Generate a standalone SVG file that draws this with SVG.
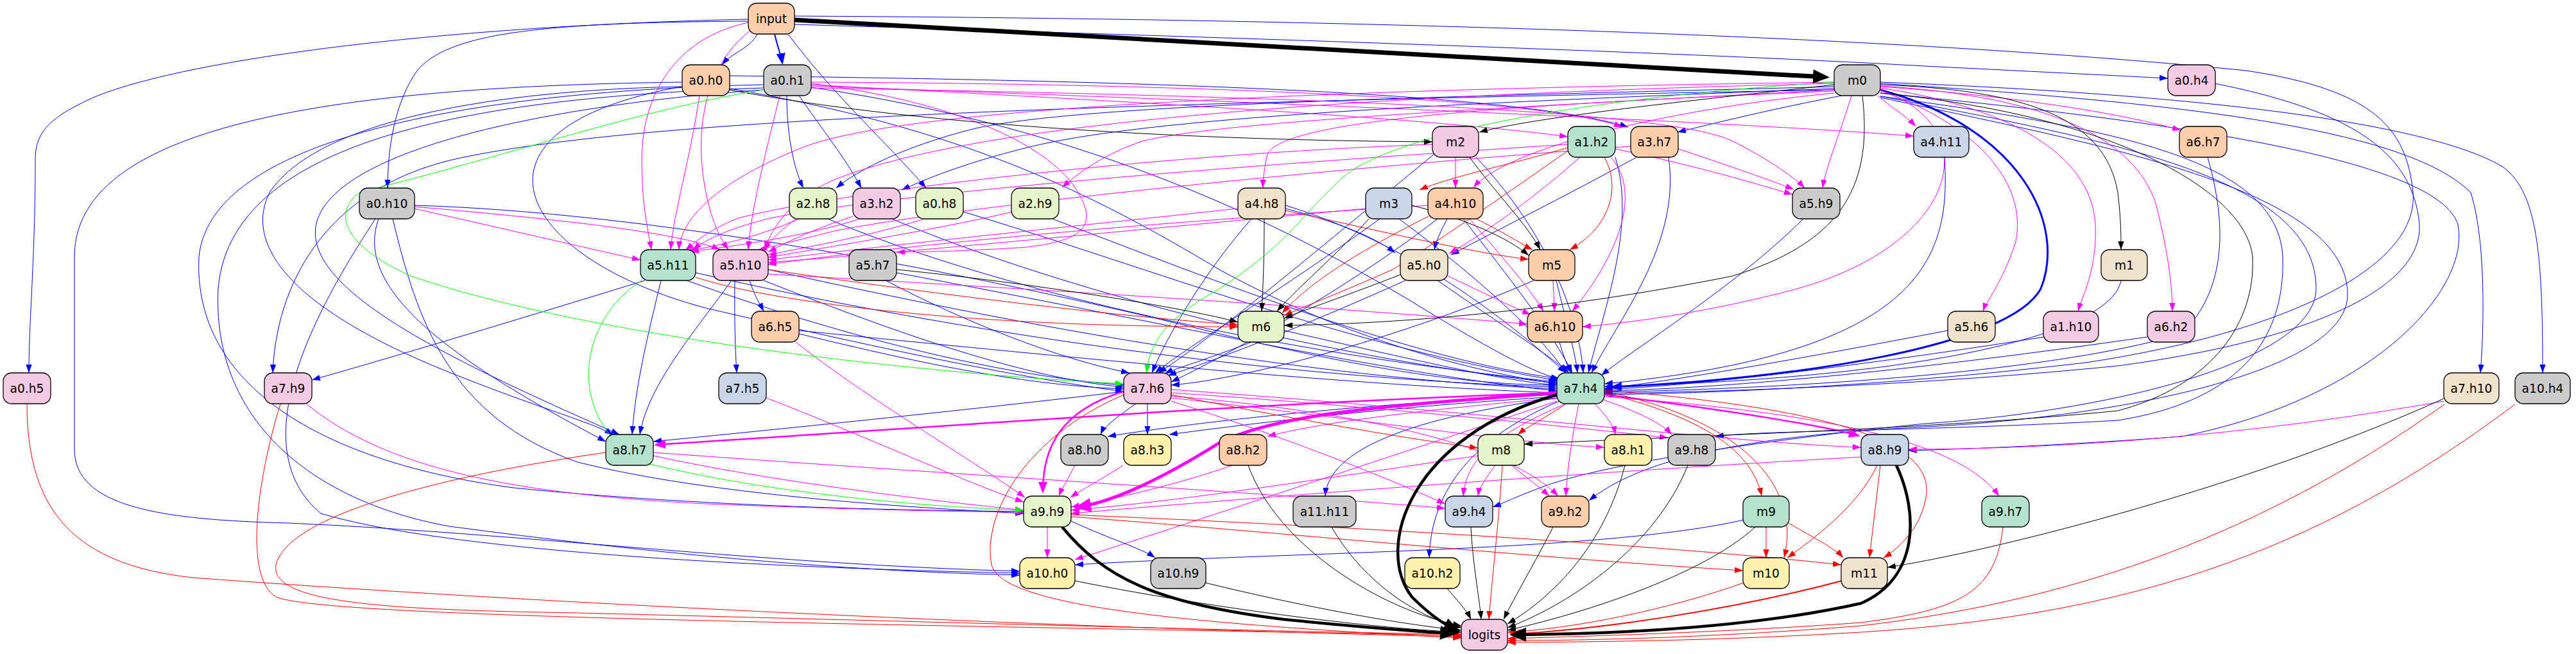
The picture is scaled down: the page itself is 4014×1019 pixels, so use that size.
<svg xmlns="http://www.w3.org/2000/svg" width="4014" height="1019" viewBox="0 0 4014 1019">
<defs>
<style>
.node rect{stroke:#000;stroke-width:1.3}
.node text{font-family:"DejaVu Sans",sans-serif;font-size:18.67px;text-anchor:middle;fill:#000}
#edges path{fill:none;stroke-width:1}
.b{stroke:#0000ff;marker-end:url(#ab)}
.m{stroke:#ff00ff;marker-end:url(#am)}
.r{stroke:#ff0000;marker-end:url(#ar)}
.k{stroke:#000;marker-end:url(#ak)}
.g{stroke:#00ff00;marker-end:url(#ag)}
#edges .bM{stroke:#0000ff;stroke-width:3;marker-end:url(#abM)}
#edges .b2{stroke:#0000ff;stroke-width:2;marker-end:url(#abM)}
#edges .mM{stroke:#ff00ff;stroke-width:2.5;marker-end:url(#amM)}
#edges .mL{stroke:#ff00ff;stroke-width:5;marker-end:url(#amL)}
#edges .rM{stroke:#ff0000;stroke-width:2;marker-end:url(#arM)}
#edges .kL{stroke:#000;stroke-width:4.5;marker-end:url(#akL)}
#edges .kX{stroke:#000;stroke-width:7;marker-end:url(#akL)}
</style>
<marker id="ab" markerUnits="userSpaceOnUse" markerWidth="14" markerHeight="10" refX="13" refY="4.7" orient="auto"><path d="M0,0L13,4.7L0,9.4z" fill="#0000ff"/></marker>
<marker id="am" markerUnits="userSpaceOnUse" markerWidth="14" markerHeight="10" refX="13" refY="4.7" orient="auto"><path d="M0,0L13,4.7L0,9.4z" fill="#ff00ff"/></marker>
<marker id="ar" markerUnits="userSpaceOnUse" markerWidth="14" markerHeight="10" refX="13" refY="4.7" orient="auto"><path d="M0,0L13,4.7L0,9.4z" fill="#ff0000"/></marker>
<marker id="ak" markerUnits="userSpaceOnUse" markerWidth="14" markerHeight="10" refX="13" refY="4.7" orient="auto"><path d="M0,0L13,4.7L0,9.4z" fill="#000"/></marker>
<marker id="ag" markerUnits="userSpaceOnUse" markerWidth="14" markerHeight="10" refX="13" refY="4.7" orient="auto"><path d="M0,0L13,4.7L0,9.4z" fill="#00ff00"/></marker>
<marker id="abM" markerUnits="userSpaceOnUse" markerWidth="19" markerHeight="15" refX="15" refY="7" orient="auto"><path d="M0,0L18,7L0,14z" fill="#0000ff"/></marker>
<marker id="amM" markerUnits="userSpaceOnUse" markerWidth="19" markerHeight="15" refX="15" refY="7" orient="auto"><path d="M0,0L18,7L0,14z" fill="#ff00ff"/></marker>
<marker id="arM" markerUnits="userSpaceOnUse" markerWidth="19" markerHeight="15" refX="15" refY="7" orient="auto"><path d="M0,0L18,7L0,14z" fill="#ff0000"/></marker>
<marker id="amL" markerUnits="userSpaceOnUse" markerWidth="27" markerHeight="23" refX="18" refY="11" orient="auto"><path d="M0,0L26,11L0,22z" fill="#ff00ff"/></marker>
<marker id="akL" markerUnits="userSpaceOnUse" markerWidth="27" markerHeight="23" refX="18" refY="11" orient="auto"><path d="M0,0L26,11L0,22z" fill="#000"/></marker>
</defs>
<rect width="4014" height="1019" fill="#fff"/>
<g id="edges">
<path class="b" d="M1180,53 C1170,75 1140,82 1125,101"/>
<path class="b" d="M1238,38 C1800,55 2600,80 3000,103 C3200,113 3300,118 3378,122"/>
<path class="b" d="M1166,33 C850,35 700,50 650,110 C615,160 604,230 604,293"/>
<path class="b" d="M1166,30 C700,40 300,90 150,150 C70,185 55,210 55,250 C55,400 45,500 45,581"/>
<path class="b" d="M1228,53 C1300,150 1380,220 1443,293"/>
<path class="b" d="M2870,149 C2760,170 2680,190 2614,206"/>
<path class="b" d="M1137,118 C1700,125 2350,140 2537,198"/>
<path class="b" d="M1226,149 C1226,220 1240,270 1252,293"/>
<path class="b" d="M2858,135 C2300,150 1700,160 1520,200 C1400,230 1330,270 1303,293"/>
<path class="b" d="M1245,149 C1280,200 1320,250 1342,293"/>
<path class="b" d="M2858,138 C2300,160 1800,180 1600,230 C1500,255 1440,280 1405,296"/>
<path class="b" d="M2003,325 C2100,350 2150,375 2174,394"/>
<path class="b" d="M2255,341 C2245,360 2238,375 2235,389"/>
<path class="b" d="M2550,245 C2450,300 2330,360 2261,397"/>
<path class="b" d="M1168,437 C1175,460 1185,475 1190,485"/>
<path class="b" d="M2858,140 C1800,160 1000,180 700,250 C500,300 430,450 425,581"/>
<path class="b" d="M1005,437 C800,500 600,560 486,592"/>
<path class="b" d="M1145,437 C1144,500 1146,550 1148,581"/>
<path class="b" d="M1070,437 C1300,520 1550,585 1751,600"/>
<path class="b" d="M1190,437 C1400,520 1600,590 1751,603"/>
<path class="b" d="M1245,520 C1450,570 1600,600 1751,606"/>
<path class="b" d="M1380,437 C1500,500 1650,560 1760,581"/>
<path class="b" d="M1950,533 C1880,560 1830,575 1815,582"/>
<path class="b" d="M2190,437 C2050,500 1900,560 1820,585"/>
<path class="b" d="M2150,341 C2000,450 1850,540 1800,581"/>
<path class="b" d="M1950,341 C1880,420 1820,520 1795,581"/>
<path class="b" d="M2390,437 C2200,520 1950,590 1825,600"/>
<path class="b" d="M2240,341 C2100,450 1900,560 1825,595"/>
<path class="b" d="M2235,240 C2100,350 1900,520 1805,581"/>
<path class="b" d="M1062,135 C700,200 800,400 1100,480 C1400,550 1600,590 1751,610"/>
<path class="b" d="M646,320 C1000,330 1500,420 1900,520 C2150,580 2300,600 2426,600"/>
<path class="b" d="M1290,341 C1500,430 1900,540 2426,595"/>
<path class="b" d="M1390,341 C1600,430 2000,550 2426,597"/>
<path class="b" d="M1501,330 C1800,420 2100,540 2428,593"/>
<path class="b" d="M1640,341 C1900,440 2200,560 2430,590"/>
<path class="b" d="M2003,320 C2200,380 2350,500 2440,581"/>
<path class="b" d="M1084,425 C1500,520 2000,590 2426,603"/>
<path class="b" d="M1197,420 C1600,510 2050,590 2426,606"/>
<path class="b" d="M1397,425 C1800,500 2150,580 2426,609"/>
<path class="b" d="M1245,515 C1700,560 2100,600 2426,612"/>
<path class="b" d="M2001,515 C2200,560 2350,595 2426,600"/>
<path class="b" d="M1137,138 C1500,200 1700,300 1900,420 C2100,530 2300,580 2426,598"/>
<path class="b" d="M1264,136 C1700,200 2000,350 2200,470 C2330,550 2400,585 2430,590"/>
<path class="b" d="M2180,341 C2300,430 2400,520 2440,581"/>
<path class="b" d="M2280,341 C2350,430 2420,520 2450,581"/>
<path class="b" d="M2240,437 C2330,500 2410,550 2445,581"/>
<path class="b" d="M2425,437 C2440,500 2455,550 2458,581"/>
<path class="b" d="M2430,533 C2435,550 2440,565 2448,581"/>
<path class="b" d="M2300,245 C2400,350 2460,480 2467,581"/>
<path class="b" d="M2517,245 C2550,350 2500,480 2475,581"/>
<path class="b" d="M2600,245 C2620,380 2520,500 2480,581"/>
<path class="b" d="M2810,341 C2700,450 2550,540 2495,585"/>
<path class="b" d="M3030,245 C3040,400 3000,550 2500,598"/>
<path class="b" d="M3305,437 C3290,520 3000,590 2500,602"/>
<path class="b" d="M3035,515 C2800,560 2600,595 2500,605"/>
<path class="b" d="M3185,525 C2900,570 2650,600 2500,607"/>
<path class="b" d="M3346,525 C3000,575 2700,605 2500,609"/>
<path class="b" d="M3440,245 C3470,350 3470,450 3400,520 C3200,580 2800,605 2500,611"/>
<path class="b" d="M3451,130 C3650,170 3760,230 3770,350 C3775,450 3600,530 3300,570 C3000,600 2700,610 2500,613"/>
<path class="b" d="M1238,25 C2200,30 3000,60 3500,110 C3700,140 3750,200 3760,300 C3770,420 3550,520 3250,565 C2950,600 2700,612 2500,615"/>
<path class="b" d="M2930,130 C3400,160 3750,200 3850,300 C3875,380 3870,520 3865,581"/>
<path class="b" d="M2930,128 C3500,150 3800,200 3900,260 C3955,300 3962,400 3962,581"/>
<path class="b" d="M1030,437 C1010,520 990,600 985,677"/>
<path class="b" d="M590,341 C550,450 700,560 944,688"/>
<path class="b" d="M1062,135 C800,140 500,180 420,300 C380,380 450,480 700,580 C850,640 930,660 955,678"/>
<path class="b" d="M1189,140 C900,160 560,220 500,330 C440,440 700,560 965,677"/>
<path class="b" d="M1140,437 C1080,520 1010,600 997,677"/>
<path class="b" d="M1751,610 C1500,640 1200,670 1018,688"/>
<path class="b" d="M1770,629 C1740,650 1720,665 1715,677"/>
<path class="b" d="M2426,615 C2100,630 1850,660 1726,680"/>
<path class="b" d="M1788,629 L1788,677"/>
<path class="b" d="M2426,618 C2150,635 1950,660 1822,677"/>
<path class="b" d="M2930,150 C3300,200 3550,250 3557,400 C3560,500 3520,620 3300,655 C3000,672 2750,670 2673,680"/>
<path class="b" d="M2930,145 C3400,190 3800,250 3830,350 C3850,450 3700,620 3400,680 C3200,695 3050,700 2974,702"/>
<path class="b" d="M1189,132 C800,140 330,200 310,400 C300,600 500,720 800,760 C1100,790 1400,795 1595,797"/>
<path class="b" d="M612,341 C650,500 700,650 900,720 C1100,770 1400,790 1595,800"/>
<path class="b" d="M2430,620 C2200,650 2070,700 2065,773"/>
<path class="b" d="M2930,150 C3300,220 3610,280 3609,450 C3608,560 3300,640 3000,660 C2800,680 2500,720 2400,760 C2360,775 2340,785 2326,790"/>
<path class="b" d="M2930,152 C3300,230 3660,300 3658,460 C3656,580 3300,650 3000,665 C2700,680 2550,720 2476,780"/>
<path class="b" d="M2717,810 C2500,860 2000,860 1675,880"/>
<path class="b" d="M1062,128 C500,135 116,200 116,400 L116,700 C116,790 250,810 450,815 C800,830 1200,880 1589,890"/>
<path class="b" d="M585,341 C480,500 380,700 500,800 C700,860 1200,885 1589,893"/>
<path class="b" d="M1189,137 C800,150 360,200 340,450 C330,650 480,780 700,820 C1000,860 1300,890 1589,896"/>
<path class="b" d="M1669,812 C1730,840 1780,855 1800,869"/>
<path class="b" d="M2430,625 C2300,680 2230,760 2227,869"/>
<path class="b2" d="M1207,53 C1212,75 1217,85 1219,98"/>
<path class="bM" d="M2930,140 C3150,200 3220,350 3180,450 C3130,540 2800,590 2512,603"/>
<path class="m" d="M1264,132 C1600,150 2200,180 2443,213"/>
<path class="m" d="M1264,128 C1800,130 2400,150 2528,198"/>
<path class="m" d="M1264,134 C2000,160 2700,190 2982,212"/>
<path class="m" d="M2926,149 C2950,170 2970,180 2985,197"/>
<path class="m" d="M2930,135 C3150,150 3320,180 3398,203"/>
<path class="m" d="M2858,140 C2300,170 1900,190 1780,220 C1720,240 1680,270 1655,292"/>
<path class="m" d="M2858,142 C2300,165 2000,190 1975,240 C1970,260 1968,280 1968,293"/>
<path class="m" d="M2268,245 C2268,265 2268,275 2268,293"/>
<path class="m" d="M2858,145 C2600,170 2350,230 2296,292"/>
<path class="m" d="M2885,149 C2870,200 2845,260 2840,293"/>
<path class="m" d="M2517,232 C2650,260 2750,290 2793,303"/>
<path class="m" d="M2615,232 C2700,260 2770,285 2795,295"/>
<path class="m" d="M1264,137 C2000,150 2600,170 2700,220 C2760,250 2800,280 2812,293"/>
<path class="m" d="M1166,35 C1050,60 1000,150 1000,250 C1000,320 1010,360 1015,389"/>
<path class="m" d="M1090,149 C1075,250 1050,330 1045,389"/>
<path class="m" d="M646,325 C800,360 930,390 998,405"/>
<path class="m" d="M1245,341 C1180,370 1110,385 1070,391"/>
<path class="m" d="M1340,341 C1250,370 1130,385 1076,392"/>
<path class="m" d="M2232,225 C1800,240 1300,300 1150,340 C1100,360 1080,380 1068,390"/>
<path class="m" d="M2443,225 C1900,260 1400,300 1200,340 C1120,360 1090,380 1080,390"/>
<path class="m" d="M2858,128 C2000,140 1400,170 1250,230 C1100,290 1060,350 1058,389"/>
<path class="m" d="M1170,47 C1100,100 1080,200 1100,300 C1110,350 1125,375 1135,389"/>
<path class="m" d="M1215,149 C1190,250 1170,330 1166,389"/>
<path class="m" d="M646,322 C850,340 1050,360 1122,389"/>
<path class="m" d="M1440,341 C1350,370 1230,390 1197,397"/>
<path class="m" d="M1578,330 C1450,360 1260,390 1197,401"/>
<path class="m" d="M1928,325 C1700,350 1400,380 1197,405"/>
<path class="m" d="M2128,325 C1800,355 1450,390 1197,409"/>
<path class="m" d="M2226,320 C1900,340 1500,370 1197,412"/>
<path class="m" d="M2541,228 C2100,260 1500,320 1300,360 C1240,375 1200,385 1182,389"/>
<path class="m" d="M2858,130 C2000,150 1500,200 1300,280 C1230,310 1200,360 1192,389"/>
<path class="m" d="M1240,341 C1215,360 1200,375 1190,390"/>
<path class="m" d="M1329,337 C1260,360 1220,380 1197,393"/>
<path class="m" d="M1264,130 C1500,160 1640,230 1680,300 C1710,350 1690,375 1600,385 C1500,392 1440,392 1397,393"/>
<path class="m" d="M2462,245 C2400,300 2320,360 2258,395"/>
<path class="m" d="M2256,430 C2320,460 2360,480 2385,490"/>
<path class="m" d="M2290,341 C2340,400 2385,450 2405,485"/>
<path class="m" d="M2420,437 C2421,460 2422,470 2422,485"/>
<path class="m" d="M2510,245 C2560,300 2520,400 2450,485"/>
<path class="m" d="M1197,427 C1600,450 2100,480 2380,505"/>
<path class="m" d="M2930,140 C3100,200 3050,380 2800,450 C2650,490 2520,505 2466,509"/>
<path class="m" d="M2926,140 C3100,200 3160,300 3140,380 C3120,440 3095,470 3090,485"/>
<path class="m" d="M2930,137 C3150,170 3260,250 3265,350 C3268,420 3245,460 3238,485"/>
<path class="m" d="M2930,134 C3200,150 3330,220 3360,320 C3380,400 3385,450 3385,485"/>
<path class="m" d="M2426,620 C2200,640 2050,660 1975,680"/>
<path class="m" d="M2485,629 C2505,650 2515,665 2517,677"/>
<path class="m" d="M1825,620 C2100,650 2350,690 2500,697"/>
<path class="m" d="M2490,620 C2550,640 2590,660 2605,677"/>
<path class="m" d="M1825,612 C2100,630 2400,660 2599,682"/>
<path class="m" d="M1825,607 C2300,640 2700,690 2900,697"/>
<path class="m" d="M3808,625 C3500,680 3200,700 2974,700"/>
<path class="m" d="M1675,725 C1665,745 1655,760 1650,773"/>
<path class="m" d="M1750,725 C1720,745 1690,760 1668,775"/>
<path class="m" d="M1240,533 C1350,620 1520,720 1597,775"/>
<path class="m" d="M1194,620 C1350,680 1500,750 1595,782"/>
<path class="m" d="M1018,710 C1200,750 1450,780 1595,795"/>
<path class="m" d="M477,629 C600,730 800,770 1100,785 C1350,795 1500,797 1595,798"/>
<path class="m" d="M2303,710 C2100,740 1850,780 1669,795"/>
<path class="m" d="M2900,712 C2400,740 1900,780 1669,800"/>
<path class="m" d="M1920,725 C1850,750 1750,775 1669,790"/>
<path class="m" d="M2440,629 C2320,680 2285,720 2280,773"/>
<path class="m" d="M2330,725 C2315,745 2305,760 2303,773"/>
<path class="m" d="M1825,625 C2000,680 2150,740 2252,785"/>
<path class="m" d="M1018,705 C1500,740 2000,770 2252,792"/>
<path class="m" d="M2460,629 C2450,680 2442,730 2440,773"/>
<path class="m" d="M2355,725 C2380,745 2400,760 2414,773"/>
<path class="m" d="M1825,617 C2100,640 2350,690 2428,773"/>
<path class="m" d="M2500,618 C2800,640 3050,680 3115,773"/>
<path class="m" d="M1632,821 L1632,869"/>
<path class="m" d="M2426,625 C2200,700 1900,800 1675,872"/>
<path class="mM" d="M1751,610 C1650,640 1625,700 1625,766"/>
<path class="mM" d="M2500,615 C2700,640 2850,665 2896,679"/>
<path class="mM" d="M2426,612 C1900,630 1400,670 1022,693"/>
<path class="mL" d="M2426,612 C2200,630 2000,640 1900,690 C1820,740 1740,780 1682,790"/>
<path class="r" d="M2443,230 C2360,255 2260,275 2212,296"/>
<path class="r" d="M2300,341 C2340,360 2370,380 2388,389"/>
<path class="r" d="M2003,328 C2150,360 2300,395 2382,404"/>
<path class="r" d="M2500,245 C2530,300 2500,360 2446,389"/>
<path class="r" d="M1197,420 C1400,450 1700,490 1929,506"/>
<path class="r" d="M1084,432 C1200,470 1500,510 1929,509"/>
<path class="r" d="M2226,337 C2120,390 2040,440 1998,488"/>
<path class="r" d="M2443,235 C2350,300 2250,370 2170,420 C2080,460 2030,478 2001,492"/>
<path class="r" d="M2440,629 C2410,650 2380,665 2365,677"/>
<path class="r" d="M1825,615 C2000,650 2200,685 2303,698"/>
<path class="r" d="M2500,612 C2650,650 2730,700 2745,773"/>
<path class="r" d="M2752,821 L2752,869"/>
<path class="r" d="M2500,610 C2700,650 2810,750 2780,869"/>
<path class="r" d="M2925,725 C2900,780 2840,830 2785,869"/>
<path class="r" d="M1669,805 C2000,830 2400,870 2716,889"/>
<path class="r" d="M2787,815 C2830,840 2860,855 2872,869"/>
<path class="r" d="M2930,725 L2913,869"/>
<path class="r" d="M2500,608 C2900,640 3020,700 3000,780 C2990,830 2950,860 2935,869"/>
<path class="r" d="M1669,802 C2100,820 2600,850 2869,880"/>
<path class="r" d="M2341,725 C2335,820 2325,900 2320,965"/>
<path class="r" d="M2717,908 C2600,950 2450,980 2349,985"/>
<path class="r" d="M944,705 C700,740 450,800 430,880 C420,940 600,950 900,955 C1500,970 2000,985 2277,988"/>
<path class="r" d="M437,629 C400,750 380,900 430,930 C500,960 1200,970 2277,990"/>
<path class="r" d="M42,629 C42,800 120,880 300,900 C700,930 1500,975 2277,992"/>
<path class="r" d="M1751,615 C1600,680 1530,800 1545,880 C1560,940 1800,970 2277,994"/>
<path class="r" d="M3121,821 C3110,920 3060,950 2900,970 C2700,985 2450,992 2349,995"/>
<path class="r" d="M3809,630 C3500,850 3200,940 2900,975 C2650,995 2450,998 2349,998"/>
<path class="r" d="M3919,630 C3600,870 3300,960 2900,985 C2650,1000 2450,1000 2349,1001"/>
<path class="rM" d="M2870,905 C2700,950 2500,980 2355,988"/>
<path class="k" d="M1137,140 C1400,190 1800,218 2232,221"/>
<path class="k" d="M2858,132 C2700,150 2400,180 2305,206"/>
<path class="k" d="M2290,245 C2330,300 2380,350 2400,389"/>
<path class="k" d="M2200,320 C2280,340 2350,370 2382,398"/>
<path class="k" d="M2930,132 C3150,140 3280,180 3300,300 C3305,340 3305,370 3305,389"/>
<path class="k" d="M1397,420 C1600,440 1850,480 1929,502"/>
<path class="k" d="M2133,341 C2080,400 2020,450 1990,485"/>
<path class="k" d="M2182,428 C2100,460 2040,480 2001,496"/>
<path class="k" d="M2902,149 C2920,300 2860,380 2700,430 C2400,490 2150,505 2001,507"/>
<path class="k" d="M1970,341 C1970,400 1968,450 1966,485"/>
<path class="k" d="M2930,145 C3300,180 3500,300 3510,400 C3515,500 3450,600 3300,640 C3000,670 2600,680 2375,692"/>
<path class="k" d="M3808,621 C3500,760 3100,860 2941,884"/>
<path class="k" d="M1675,905 C1900,950 2150,980 2277,985"/>
<path class="k" d="M1878,908 C2050,950 2200,975 2277,982"/>
<path class="k" d="M2075,821 C2120,900 2200,960 2278,978"/>
<path class="k" d="M2255,917 C2270,935 2285,950 2292,965"/>
<path class="k" d="M2292,821 C2295,880 2305,930 2308,965"/>
<path class="k" d="M2420,821 C2390,880 2360,930 2343,965"/>
<path class="k" d="M2532,725 C2500,850 2420,930 2349,972"/>
<path class="k" d="M2630,725 C2580,850 2450,940 2349,978"/>
<path class="k" d="M2735,821 C2650,900 2450,960 2349,982"/>
<path class="k" d="M1945,725 C1990,850 2150,950 2277,975"/>
<path class="kX" d="M1238,31 L2843,120"/>
<path class="kL" d="M2426,615 C2200,680 2140,850 2200,930 C2230,960 2255,975 2268,981"/>
<path class="kL" d="M1655,821 C1720,900 1800,940 2000,965 C2150,980 2230,985 2262,987"/>
<path class="kL" d="M2955,725 C2990,800 2990,900 2900,940 C2700,985 2450,988 2360,989"/>
<path class="g" d="M2858,128 C2500,150 2200,200 2100,270 C2030,330 2020,370 1900,450 C1810,500 1790,540 1787,581"/>
<path class="g" d="M1189,140 C1000,170 800,240 560,300 C520,330 530,380 640,430 C900,520 1400,580 1751,598"/>
<path class="g" d="M1000,437 C900,500 880,650 1000,720 C1200,770 1450,790 1595,795"/>
</g>
<g id="input" class="node"><rect x="1166" y="5" width="72" height="48" rx="13" fill="#fdcdac"/><text x="1202" y="35.5">input</text></g>
<g id="a0.h0" class="node"><rect x="1063" y="101" width="74" height="48" rx="13" fill="#fdcdac"/><text x="1100" y="131.5">a0.h0</text></g>
<g id="a0.h1" class="node"><rect x="1190" y="101" width="74" height="48" rx="13" fill="#cccccc"/><text x="1227" y="131.5">a0.h1</text></g>
<g id="m0" class="node"><rect x="2858" y="101" width="72" height="48" rx="13" fill="#cccccc"/><text x="2894" y="131.5">m0</text></g>
<g id="a0.h4" class="node"><rect x="3378" y="101" width="74" height="48" rx="13" fill="#f4cae4"/><text x="3415" y="131.5">a0.h4</text></g>
<g id="m2" class="node"><rect x="2232" y="197" width="72" height="48" rx="13" fill="#f4cae4"/><text x="2268" y="227.5">m2</text></g>
<g id="a1.h2" class="node"><rect x="2443" y="197" width="74" height="48" rx="13" fill="#b3e2cd"/><text x="2480" y="227.5">a1.h2</text></g>
<g id="a3.h7" class="node"><rect x="2541" y="197" width="74" height="48" rx="13" fill="#fdcdac"/><text x="2578" y="227.5">a3.h7</text></g>
<g id="a4.h11" class="node"><rect x="2982" y="197" width="86" height="48" rx="13" fill="#cbd5e8"/><text x="3025" y="227.5">a4.h11</text></g>
<g id="a6.h7" class="node"><rect x="3396" y="197" width="74" height="48" rx="13" fill="#fdcdac"/><text x="3433" y="227.5">a6.h7</text></g>
<g id="a0.h10" class="node"><rect x="560" y="293" width="86" height="48" rx="13" fill="#cccccc"/><text x="603" y="323.5">a0.h10</text></g>
<g id="a2.h8" class="node"><rect x="1230" y="293" width="74" height="48" rx="13" fill="#e6f5c9"/><text x="1267" y="323.5">a2.h8</text></g>
<g id="a3.h2" class="node"><rect x="1329" y="293" width="74" height="48" rx="13" fill="#f4cae4"/><text x="1366" y="323.5">a3.h2</text></g>
<g id="a0.h8" class="node"><rect x="1427" y="293" width="74" height="48" rx="13" fill="#e6f5c9"/><text x="1464" y="323.5">a0.h8</text></g>
<g id="a2.h9" class="node"><rect x="1576" y="293" width="74" height="48" rx="13" fill="#e6f5c9"/><text x="1613" y="323.5">a2.h9</text></g>
<g id="a4.h8" class="node"><rect x="1929" y="293" width="74" height="48" rx="13" fill="#f1e2cc"/><text x="1966" y="323.5">a4.h8</text></g>
<g id="m3" class="node"><rect x="2128" y="293" width="72" height="48" rx="13" fill="#cbd5e8"/><text x="2164" y="323.5">m3</text></g>
<g id="a4.h10" class="node"><rect x="2225" y="293" width="86" height="48" rx="13" fill="#fdcdac"/><text x="2268" y="323.5">a4.h10</text></g>
<g id="a5.h9" class="node"><rect x="2793" y="293" width="74" height="48" rx="13" fill="#cccccc"/><text x="2830" y="323.5">a5.h9</text></g>
<g id="a5.h11" class="node"><rect x="998" y="389" width="86" height="48" rx="13" fill="#b3e2cd"/><text x="1041" y="419.5">a5.h11</text></g>
<g id="a5.h10" class="node"><rect x="1111" y="389" width="86" height="48" rx="13" fill="#f4cae4"/><text x="1154" y="419.5">a5.h10</text></g>
<g id="a5.h7" class="node"><rect x="1323" y="389" width="74" height="48" rx="13" fill="#cccccc"/><text x="1360" y="419.5">a5.h7</text></g>
<g id="a5.h0" class="node"><rect x="2182" y="389" width="74" height="48" rx="13" fill="#f1e2cc"/><text x="2219" y="419.5">a5.h0</text></g>
<g id="m5" class="node"><rect x="2382" y="389" width="72" height="48" rx="13" fill="#fdcdac"/><text x="2418" y="419.5">m5</text></g>
<g id="m1" class="node"><rect x="3274" y="389" width="72" height="48" rx="13" fill="#f1e2cc"/><text x="3310" y="419.5">m1</text></g>
<g id="a6.h5" class="node"><rect x="1171" y="485" width="74" height="48" rx="13" fill="#fdcdac"/><text x="1208" y="515.5">a6.h5</text></g>
<g id="m6" class="node"><rect x="1929" y="485" width="72" height="48" rx="13" fill="#e6f5c9"/><text x="1965" y="515.5">m6</text></g>
<g id="a6.h10" class="node"><rect x="2380" y="485" width="86" height="48" rx="13" fill="#fdcdac"/><text x="2423" y="515.5">a6.h10</text></g>
<g id="a5.h6" class="node"><rect x="3035" y="485" width="74" height="48" rx="13" fill="#f1e2cc"/><text x="3072" y="515.5">a5.h6</text></g>
<g id="a1.h10" class="node"><rect x="3184" y="485" width="86" height="48" rx="13" fill="#f4cae4"/><text x="3227" y="515.5">a1.h10</text></g>
<g id="a6.h2" class="node"><rect x="3346" y="485" width="74" height="48" rx="13" fill="#f4cae4"/><text x="3383" y="515.5">a6.h2</text></g>
<g id="a0.h5" class="node"><rect x="5" y="581" width="74" height="48" rx="13" fill="#f4cae4"/><text x="42" y="611.5">a0.h5</text></g>
<g id="a7.h9" class="node"><rect x="412" y="581" width="74" height="48" rx="13" fill="#f4cae4"/><text x="449" y="611.5">a7.h9</text></g>
<g id="a7.h5" class="node"><rect x="1120" y="581" width="74" height="48" rx="13" fill="#cbd5e8"/><text x="1157" y="611.5">a7.h5</text></g>
<g id="a7.h6" class="node"><rect x="1751" y="581" width="74" height="48" rx="13" fill="#f4cae4"/><text x="1788" y="611.5">a7.h6</text></g>
<g id="a7.h4" class="node"><rect x="2426" y="581" width="74" height="48" rx="13" fill="#b3e2cd"/><text x="2463" y="611.5">a7.h4</text></g>
<g id="a7.h10" class="node"><rect x="3808" y="581" width="86" height="48" rx="13" fill="#f1e2cc"/><text x="3851" y="611.5">a7.h10</text></g>
<g id="a10.h4" class="node"><rect x="3919" y="581" width="86" height="48" rx="13" fill="#cccccc"/><text x="3962" y="611.5">a10.h4</text></g>
<g id="a8.h7" class="node"><rect x="944" y="677" width="74" height="48" rx="13" fill="#b3e2cd"/><text x="981" y="707.5">a8.h7</text></g>
<g id="a8.h0" class="node"><rect x="1653" y="677" width="74" height="48" rx="13" fill="#cccccc"/><text x="1690" y="707.5">a8.h0</text></g>
<g id="a8.h3" class="node"><rect x="1751" y="677" width="74" height="48" rx="13" fill="#fff2ae"/><text x="1788" y="707.5">a8.h3</text></g>
<g id="a8.h2" class="node"><rect x="1900" y="677" width="74" height="48" rx="13" fill="#fdcdac"/><text x="1937" y="707.5">a8.h2</text></g>
<g id="m8" class="node"><rect x="2303" y="677" width="72" height="48" rx="13" fill="#e6f5c9"/><text x="2339" y="707.5">m8</text></g>
<g id="a8.h1" class="node"><rect x="2500" y="677" width="74" height="48" rx="13" fill="#fff2ae"/><text x="2537" y="707.5">a8.h1</text></g>
<g id="a9.h8" class="node"><rect x="2599" y="677" width="74" height="48" rx="13" fill="#cccccc"/><text x="2636" y="707.5">a9.h8</text></g>
<g id="a8.h9" class="node"><rect x="2900" y="677" width="74" height="48" rx="13" fill="#cbd5e8"/><text x="2937" y="707.5">a8.h9</text></g>
<g id="a9.h9" class="node"><rect x="1595" y="773" width="74" height="48" rx="13" fill="#e6f5c9"/><text x="1632" y="803.5">a9.h9</text></g>
<g id="a11.h11" class="node"><rect x="2015" y="773" width="98" height="48" rx="13" fill="#cccccc"/><text x="2064" y="803.5">a11.h11</text></g>
<g id="a9.h4" class="node"><rect x="2252" y="773" width="74" height="48" rx="13" fill="#cbd5e8"/><text x="2289" y="803.5">a9.h4</text></g>
<g id="a9.h2" class="node"><rect x="2402" y="773" width="74" height="48" rx="13" fill="#fdcdac"/><text x="2439" y="803.5">a9.h2</text></g>
<g id="m9" class="node"><rect x="2716" y="773" width="72" height="48" rx="13" fill="#b3e2cd"/><text x="2752" y="803.5">m9</text></g>
<g id="a9.h7" class="node"><rect x="3088" y="773" width="74" height="48" rx="13" fill="#b3e2cd"/><text x="3125" y="803.5">a9.h7</text></g>
<g id="a10.h0" class="node"><rect x="1589" y="869" width="86" height="48" rx="13" fill="#fff2ae"/><text x="1632" y="899.5">a10.h0</text></g>
<g id="a10.h9" class="node"><rect x="1793" y="869" width="86" height="48" rx="13" fill="#cccccc"/><text x="1836" y="899.5">a10.h9</text></g>
<g id="a10.h2" class="node"><rect x="2189" y="869" width="86" height="48" rx="13" fill="#fff2ae"/><text x="2232" y="899.5">a10.h2</text></g>
<g id="m10" class="node"><rect x="2716" y="869" width="72" height="48" rx="13" fill="#fff2ae"/><text x="2752" y="899.5">m10</text></g>
<g id="m11" class="node"><rect x="2869" y="869" width="72" height="48" rx="13" fill="#f1e2cc"/><text x="2905" y="899.5">m11</text></g>
<g id="logits" class="node"><rect x="2277" y="965" width="72" height="48" rx="13" fill="#f4cae4"/><text x="2313" y="995.5">logits</text></g>
</svg>
